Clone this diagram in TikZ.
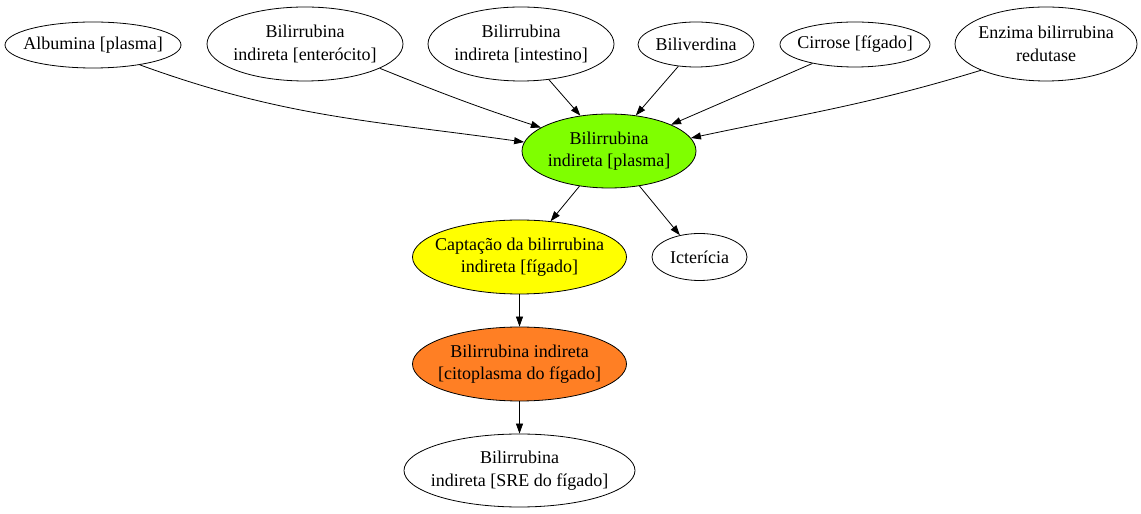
\documentclass[tikz,border=0pt]{standalone}
\usepackage{fontspec}
\setmainfont{Liberation Serif}
\usetikzlibrary{shapes.geometric,arrows.meta}
\definecolor{grn}{HTML}{7FFF00}
\definecolor{ylw}{HTML}{FFFF00}
\definecolor{org}{HTML}{FF7F24}
\begin{document}
\begin{tikzpicture}[x=1pt,y=1pt,
  nd/.style={ellipse, draw, line width=0.8pt, inner xsep=-80pt, inner ysep=-40pt, align=center,
    font=\fontsize{18}{22.5}\selectfont},
  edge/.style={line width=0.8pt, -{Triangle[length=10pt,width=7pt]}}]
\useasboundingbox (0,0) rectangle (1141,514);
\node[nd, minimum width=176pt, minimum height=46pt] (alb) at (93,469) {Albumina [plasma]};
\node[nd, minimum width=196pt, minimum height=74pt] (ent) at (305,470) {Bilirrubina\\indireta [enterócito]};
\node[nd, minimum width=186pt, minimum height=74pt] (int) at (521,470) {Bilirrubina\\indireta [intestino]};
\node[nd, minimum width=116pt, minimum height=45pt] (bil) at (696,469.5) {Biliverdina};
\node[nd, minimum width=150pt, minimum height=45pt] (cir) at (855,469.5) {Cirrose [fígado]};
\node[nd, minimum width=182pt, minimum height=74pt] (enz) at (1046,470) {Enzima bilirrubina\\redutase};
\node[nd, fill=grn, minimum width=174pt, minimum height=74pt] (pla) at (609,363) {Bilirrubina\\indireta [plasma]};
\node[nd, fill=ylw, minimum width=214pt, minimum height=74pt] (cap) at (519.5,257) {Captação da bilirrubina\\indireta [fígado]};
\node[nd, minimum width=95pt, minimum height=47pt] (ict) at (699.5,257) {Icterícia};
\node[nd, fill=org, minimum width=214pt, minimum height=74pt] (ora) at (519.5,150) {Bilirrubina indireta\\{[citoplasma do fígado]}};
\node[nd, minimum width=231pt, minimum height=73pt] (sre) at (519.5,43.5) {Bilirrubina\\indireta [SRE do fígado]};
\draw[edge] (alb.-23) to[out=-20,in=172] (pla.174);
\draw[edge] (ent.-18) to[out=-22,in=162] (pla.161);
\draw[edge] (int.-52) -- (pla.129);
\draw[edge] (bil.231) -- (pla.53);
\draw[edge] (cir.204) -- (pla.23);
\draw[edge] (enz.202) to[out=197,in=12] (pla.9.6);
\draw[edge] (pla.230) -- (cap.49);
\draw[edge] (pla.-49) -- (ict.132);
\draw[edge] (cap.south) -- (ora.north);
\draw[edge] (ora.south) -- (sre.north);
\end{tikzpicture}
\end{document}
